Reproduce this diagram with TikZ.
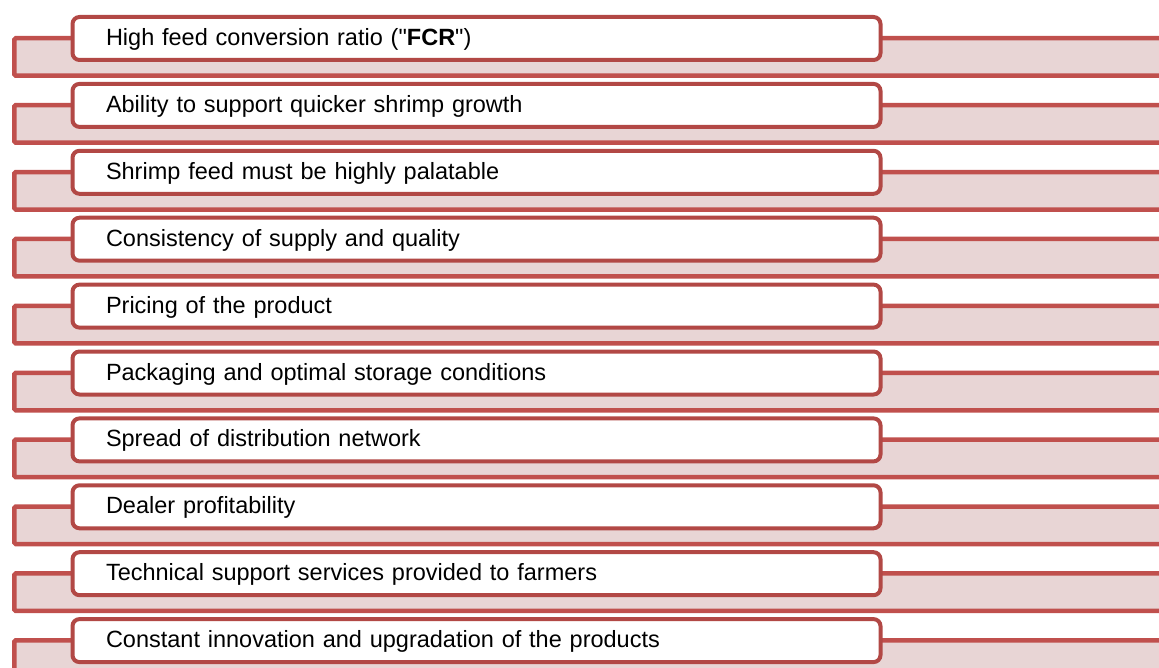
\documentclass[tikz,border=0pt]{standalone}
\usepackage{fontspec}
\setmainfont{Liberation Sans}[Ligatures=TeXOff]
\definecolor{bandred}{RGB}{192,80,77}
\definecolor{boxred}{RGB}{178,72,69}
\definecolor{bandfill}{RGB}{232,213,213}
\begin{document}
\begin{tikzpicture}[x=1pt,y=-1pt,
  bandstyle/.style={draw=bandred, fill=bandfill, line width=4.5pt, rectangle,
    rounded corners=1.5pt, anchor=north west, minimum width=1200pt,
    minimum height=37.5pt, inner sep=0pt},
  itembox/.style={draw=boxred, fill=white, line width=4pt, rounded corners=7pt,
    anchor=north west, minimum width=808pt, minimum height=43pt,
    text width=741pt, align=left, inner xsep=33.5pt, inner ysep=0pt,
    text height=20pt, text depth=6pt, font=\fontsize{23.5}{28}\selectfont}]
\useasboundingbox (0,0) rectangle (1159,668);
\clip (0,0) rectangle (1159,668);
\foreach [count=\i from 0] \t in {
  {High feed conversion ratio ("\textbf{FCR}")},
  {Ability to support quicker shrimp growth},
  {Shrimp feed must be highly palatable},
  {Consistency of supply and quality},
  {Pricing of the product},
  {Packaging and optimal storage conditions},
  {Spread of distribution network},
  {Dealer profitability},
  {Technical support services provided to farmers},
  {Constant innovation and upgradation of the products}} {
  \node[bandstyle] (band\i) at (12, 36+66.9*\i) {};
  \node[itembox] (item\i) at (70.5, 15+66.9*\i) {\t};
}
\end{tikzpicture}
\end{document}
